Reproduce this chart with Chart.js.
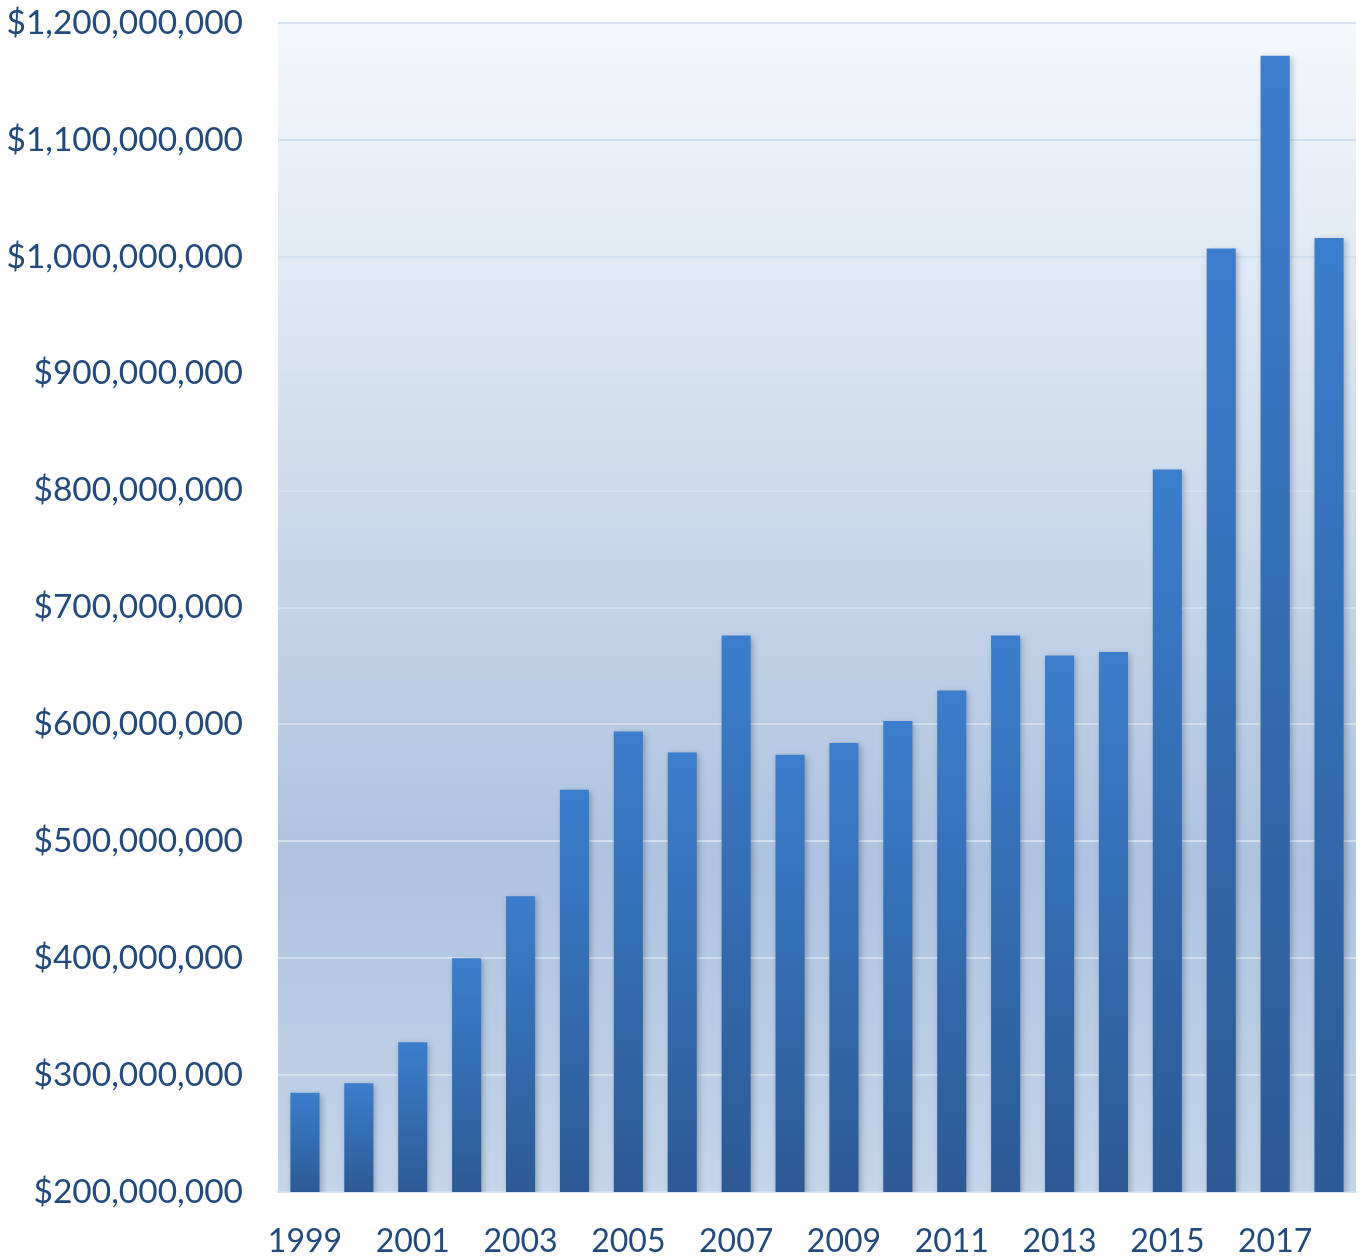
<!DOCTYPE html>
<html>
<head>
<meta charset="utf-8">
<script src="https://cdn.jsdelivr.net/npm/chart.js@4.4.0/dist/chart.umd.min.js"></script>
<style>
    html, body { margin: 0; padding: 0; background: #fff; }
    #wrap { width: 1361px; height: 1258px; position: relative; }
</style>
</head>
<body>
<div id="wrap"><canvas id="revenueChart"></canvas></div>
<script>
const years = ['1999', '2000', '2001', '2002', '2003', '2004', '2005', '2006', '2007', '2008',
    '2009', '2010', '2011', '2012', '2013', '2014', '2015', '2016', '2017', '2018'];
const amounts = [285000000, 293000000, 328000000, 400000000, 453000000, 544000000, 594000000,
    576000000, 676000000, 574000000, 584000000, 603000000, 629000000, 676000000, 659000000,
    662000000, 818000000, 1007000000, 1172000000, 1016000000];
const yMin = 200000000;
const yMax = 1200000000;
const yStep = 100000000;

const textColor = '#234a7e';
const fontFamily = 'Lato, "Open Sans", sans-serif';

// Plot area background: light at top, deeper blue lower down
const plotBackground = {
    id: 'plotBackground',
    beforeDraw(chart) {
        const { ctx, chartArea: a } = chart;
        const g = ctx.createLinearGradient(0, a.top, 0, a.bottom);
        g.addColorStop(0, '#f5f8fc');
        g.addColorStop(0.72, '#adc3df');
        g.addColorStop(1, '#c4d5ea');
        ctx.save();
        ctx.fillStyle = g;
        ctx.fillRect(a.left, a.top, a.right - a.left, a.bottom - a.top);
        ctx.restore();
    }
};

// Soft shadow behind the bars
const barShadow = {
    id: 'barShadow',
    beforeDatasetsDraw(chart) {
        const ctx = chart.ctx;
        ctx.save();
        ctx.shadowColor = 'rgba(0, 0, 0, 0.25)';
        ctx.shadowBlur = 6;
        ctx.shadowOffsetX = 2;
        ctx.shadowOffsetY = 2;
    },
    afterDatasetsDraw(chart) {
        chart.ctx.restore();
    }
};

function barGradient(context) {
    const chart = context.chart;
    if (!chart.chartArea) return '#3a78c6';
    const y = chart.scales.y;
    const top = y.getPixelForValue(context.raw);
    const bottom = y.getPixelForValue(yMin);
    const g = chart.ctx.createLinearGradient(0, top, 0, bottom);
    g.addColorStop(0, '#3b7ecd');
    g.addColorStop(1, '#2c5a95');
    return g;
}

const ctx = document.getElementById('revenueChart').getContext('2d');
new Chart(ctx, {
    type: 'bar',
    data: {
        labels: years,
        datasets: [{
            data: amounts,
            backgroundColor: barGradient,
            borderWidth: 0,
            barPercentage: 0.54,
            categoryPercentage: 1
        }]
    },
    options: {
        responsive: true,
        maintainAspectRatio: false,
        animation: false,
        layout: {
            padding: { top: 23, right: 5, bottom: 0, left: 0 }
        },
        plugins: {
            legend: { display: false },
            tooltip: { enabled: false }
        },
        scales: {
            x: {
                grid: { display: false, drawTicks: false },
                border: { color: '#d3e0ef', width: 2 },
                ticks: {
                    color: textColor,
                    font: { family: fontFamily, size: 32 },
                    autoSkip: false,
                    maxRotation: 0,
                    padding: 30,
                    callback: (val, i) => (i % 2 === 0 ? years[i] : '')
                },
                afterFit(scale) {
                    scale.height = 66;
                    scale.paddingLeft = 0;
                    scale.paddingRight = 0;
                }
            },
            y: {
                min: yMin,
                max: yMax,
                grid: { color: '#d3e0ef', lineWidth: 2, drawTicks: false },
                border: { display: false },
                ticks: {
                    stepSize: yStep,
                    color: textColor,
                    font: { family: fontFamily, size: 33.5 },
                    padding: 35,
                    callback: v => '$' + v.toLocaleString('en-US')
                },
                afterFit(scale) {
                    scale.width = 278;
                    scale.paddingTop = 0;
                    scale.paddingBottom = 0;
                }
            }
        }
    },
    plugins: [plotBackground, barShadow]
});
</script>
</body>
</html>
